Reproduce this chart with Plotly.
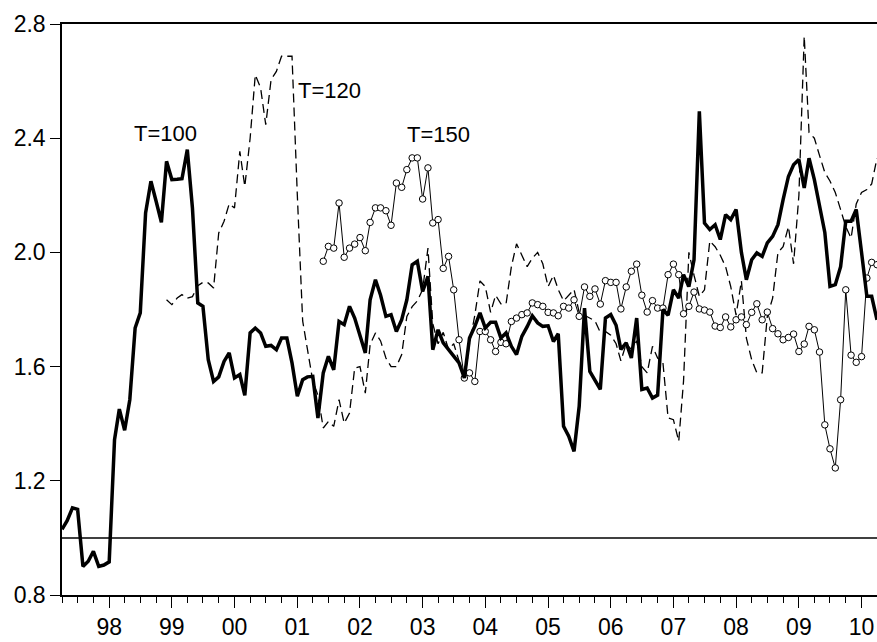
import pandas as pd
import plotly.graph_objects as go

START = "1997-04-01"
N_OBS = 157
dates = pd.date_range(START, periods=N_OBS, freq="MS")

t100 = [1.03, 1.06, 1.105, 1.10, 0.90, 0.918, 0.953, 0.90, 0.905, 0.916,
        1.344, 1.451, 1.377, 1.484, 1.735, 1.788, 2.138, 2.249, 2.18, 2.105,
        2.319, 2.255, 2.256, 2.258, 2.36, 2.155, 1.823, 1.811, 1.624, 1.548,
        1.564, 1.618, 1.648, 1.56, 1.572, 1.499, 1.718, 1.735, 1.718, 1.671,
        1.674, 1.659, 1.70, 1.70, 1.613, 1.496, 1.554, 1.564, 1.566, 1.42,
        1.578, 1.636, 1.589, 1.758, 1.747, 1.811, 1.77, 1.71, 1.648, 1.834,
        1.904, 1.85, 1.776, 1.782, 1.723, 1.764, 1.834, 1.957, 1.969, 1.863,
        1.916, 1.659, 1.729, 1.683, 1.659, 1.636, 1.613, 1.56, 1.70, 1.741,
        1.788, 1.735, 1.755, 1.755, 1.70, 1.718, 1.671, 1.642, 1.706, 1.74,
        1.778, 1.753, 1.741, 1.743, 1.688, 1.715, 1.391, 1.356, 1.303, 1.461,
        1.805, 1.583, 1.55, 1.52, 1.77, 1.782, 1.745, 1.66, 1.683, 1.63,
        1.77, 1.52, 1.525, 1.49, 1.50, 1.80, 1.78, 1.869, 1.84, 1.922,
        1.88, 1.974, 2.494, 2.103, 2.08, 2.097, 2.045, 2.132, 2.115, 2.15,
        2.0, 1.904, 1.974, 1.998, 1.986, 2.033, 2.056, 2.097, 2.185, 2.266,
        2.307, 2.325, 2.226, 2.33, 2.255, 2.17, 2.07, 1.881, 1.887, 1.95,
        2.109, 2.109, 2.15, 2.0, 1.846, 1.846, 1.764]

T120_START = 20
t120 = [1.834, 1.817, 1.84, 1.852, 1.84, 1.845, 1.883, 1.895, 1.893, 1.875,
        2.068, 2.109, 2.17, 2.156, 2.354, 2.231, 2.40, 2.622, 2.576, 2.447,
        2.605, 2.634, 2.687, 2.687, 2.687, 2.2, 1.76, 1.66, 1.55, 1.50,
        1.385, 1.408, 1.391, 1.484, 1.402, 1.437, 1.595, 1.60, 1.507, 1.677,
        1.718, 1.69, 1.63, 1.60, 1.60, 1.642, 1.776, 1.81, 1.83, 1.87,
        2.015, 1.75, 1.68, 1.72, 1.66, 1.68, 1.62, 1.55, 1.68, 1.78,
        1.90, 1.88, 1.79, 1.85, 1.82, 1.82, 1.95, 2.03, 1.99, 1.95,
        1.98, 2.0, 1.96, 1.88, 1.92, 1.87, 1.83, 1.85, 1.87, 1.79,
        1.78, 1.77, 1.76, 1.72, 1.723, 1.71, 1.68, 1.62, 1.68, 1.66,
        1.69, 1.60, 1.578, 1.671, 1.63, 1.613, 1.42, 1.414, 1.338, 1.55,
        2.00, 1.92, 1.846, 1.869, 2.04, 2.02, 1.99, 1.95, 1.88, 1.78,
        1.90, 1.70, 1.624, 1.578, 1.578, 1.776, 1.84, 2.00, 2.02, 2.09,
        1.96, 2.2, 2.757, 2.42, 2.40, 2.34, 2.28, 2.25, 2.21, 2.15,
        2.09, 2.05, 2.17, 2.21, 2.22, 2.24, 2.33]

T150_START = 50
t150 = [1.969, 2.021, 2.015, 2.173, 1.983, 2.015, 2.029, 2.052, 2.006, 2.105,
        2.156, 2.156, 2.146, 2.095, 2.243, 2.228, 2.29, 2.331, 2.331, 2.187,
        2.296, 2.103, 2.115, 1.944, 1.986, 1.869, 1.694, 1.56, 1.578, 1.548,
        1.723, 1.723, 1.694, 1.653, 1.685, 1.68, 1.758, 1.77, 1.782, 1.788,
        1.823, 1.817, 1.811, 1.79, 1.788, 1.778, 1.811, 1.805, 1.834, 1.776,
        1.879, 1.846, 1.872, 1.819, 1.901, 1.895, 1.895, 1.802, 1.879, 1.934,
        1.959, 1.85, 1.791, 1.831, 1.805, 1.805, 1.922, 1.959, 1.922, 1.785,
        1.811, 1.861, 1.802, 1.798, 1.791, 1.742, 1.737, 1.774, 1.739, 1.764,
        1.774, 1.747, 1.79, 1.82, 1.764, 1.791, 1.733, 1.715, 1.694, 1.702,
        1.714, 1.653, 1.679, 1.741, 1.729, 1.651, 1.396, 1.312, 1.245, 1.484,
        1.869, 1.64, 1.615, 1.635, 1.91, 1.965, 1.957]

BASELINE = 1.0
Y_TICKS = [0.8, 1.2, 1.6, 2.0, 2.4, 2.8]

labels = [
    ("T=100", "1998-11-27", 2.417),
    ("T=120", "2001-07-09", 2.566),
    ("T=150", "2003-04-01", 2.414),
]

FONT = "Liberation Sans, Arial, sans-serif"

fig = go.Figure()
fig.add_trace(go.Scatter(
    x=[dates[0], dates[-1]], y=[BASELINE, BASELINE], mode="lines",
    line=dict(color="black", width=1.5), showlegend=False, hoverinfo="skip"))
fig.add_trace(go.Scatter(
    x=dates[T120_START:], y=t120, mode="lines",
    line=dict(color="black", width=1.3, dash="9px,5px"), showlegend=False))
fig.add_trace(go.Scatter(
    x=dates[T150_START:], y=t150, mode="lines+markers",
    line=dict(color="black", width=1),
    marker=dict(symbol="circle", size=6.5, color="white",
                line=dict(color="black", width=1)),
    showlegend=False))
fig.add_trace(go.Scatter(
    x=dates, y=t100, mode="lines",
    line=dict(color="black", width=3.5), showlegend=False))

for text, xv, yv in labels:
    fig.add_annotation(x=xv, y=yv, text=text, showarrow=False,
                       font=dict(family=FONT, size=22, color="black"))

fig.update_layout(
    width=877, height=642,
    margin=dict(l=62, r=0, t=24, b=47),
    plot_bgcolor="white", paper_bgcolor="white",
    font=dict(family=FONT, size=23, color="black"),
)
fig.update_xaxes(
    type="date", range=[dates[0], dates[-1]],
    tick0="1998-01-01", dtick="M12", tickformat="%y",
    ticks="outside", ticklen=11, tickwidth=1, tickcolor="black",
    minor=dict(dtick="M3", tick0="1998-01-01", ticks="outside", ticklen=6,
               tickwidth=1, tickcolor="black", showgrid=False),
    showline=True, linecolor="black", linewidth=1.5, mirror=True,
    showgrid=False, zeroline=False, ticklabelstandoff=0,
    tickfont=dict(family=FONT, size=23, color="black"),
)
fig.update_yaxes(
    range=[0.8, 2.8], tickvals=Y_TICKS, tickformat=".1f",
    ticks="outside", ticklen=10, tickwidth=1, tickcolor="black",
    showline=True, linecolor="black", linewidth=1.5,
    showgrid=False, zeroline=False, ticklabelstandoff=0,
    tickfont=dict(family=FONT, size=23, color="black"),
)

fig.write_html(
    "out.html",
    config={"displayModeBar": False},
    post_script=("document.documentElement.style.overflow='hidden';"
                 "document.body.style.margin='0';"
                 "document.body.style.overflow='hidden';"),
)
